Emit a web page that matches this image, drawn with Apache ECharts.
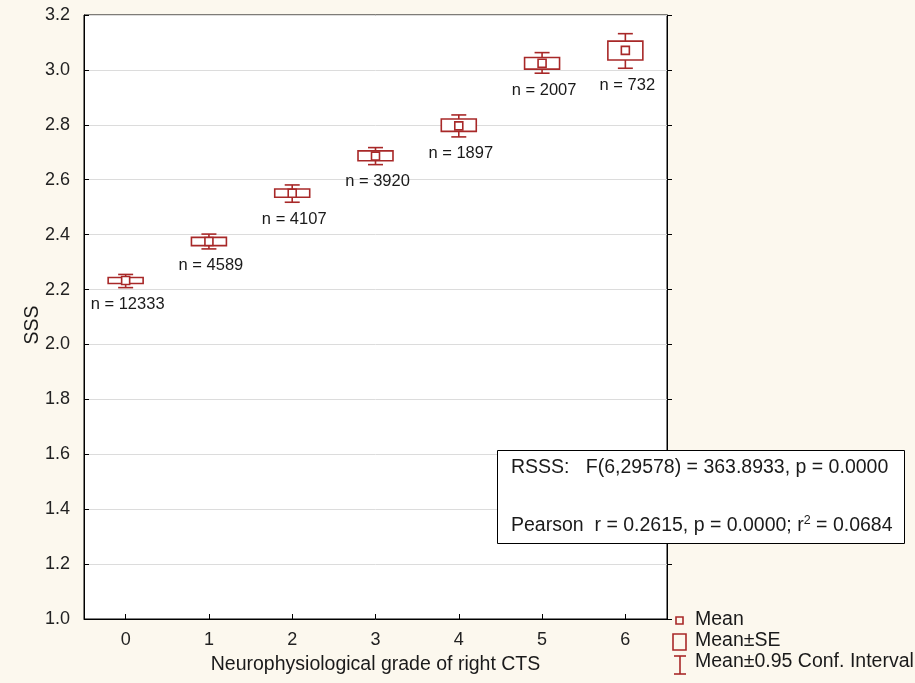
<!DOCTYPE html>
<html>
<head>
<meta charset="utf-8">
<script src="https://cdn.jsdelivr.net/npm/echarts@6/dist/echarts.min.js"></script>
<style>
html,body{margin:0;padding:0;background:#fcf8ee;}
#chart{width:915px;height:683px;}
</style>
</head>
<body>
<div id="chart"></div>
<script>
const categories = ['0', '1', '2', '3', '4', '5', '6'];
const means  = [2.233, 2.375, 2.551, 2.686, 2.796, 3.024, 3.071];
const seLow  = [2.222, 2.360, 2.536, 2.669, 2.776, 3.003, 3.036];
const seHigh = [2.244, 2.390, 2.566, 2.705, 2.821, 3.045, 3.105];
const ciLow  = [2.207, 2.348, 2.518, 2.655, 2.756, 2.988, 3.006];
const ciHigh = [2.255, 2.402, 2.581, 2.717, 2.836, 3.063, 3.132];
const counts = [12333, 4589, 4107, 3920, 1897, 2007, 732];
const yTitle = 'SSS';
const xTitle = 'Neurophysiological grade of right CTS';
const statLines = [
  'RSSS:   F(6,29578) = 363.8933, p = 0.0000',
  'Pearson  r = 0.2615, p = 0.0000; r{sup|2} = 0.0684'
];
const legendLabels = ['Mean', 'Mean\u00b1SE', 'Mean\u00b10.95 Conf. Interval'];

const RED = '#a82828';
const FONT = 'Liberation Sans, Arial, sans-serif';
const TXT = '#1a1a1a';

const data = categories.map((c, i) => [i, means[i], seLow[i], seHigh[i], ciLow[i], ciHigh[i], counts[i]]);

function renderItem(params, api) {
  const x = api.value(0);
  const pm = api.coord([x, api.value(1)]);
  const psl = api.coord([x, api.value(2)]);
  const psh = api.coord([x, api.value(3)]);
  const pcl = api.coord([x, api.value(4)]);
  const pch = api.coord([x, api.value(5)]);
  const bw = api.size([1, 0])[0];
  const hb = bw * 0.21;
  const hc = bw * 0.09;
  const cx = pm[0];
  const ls = { stroke: RED, lineWidth: 1.6, fill: 'none' };
  const ms = 8;
  return {
    type: 'group',
    children: [
      { type: 'line', shape: { x1: cx, y1: pch[1], x2: cx, y2: psh[1] }, style: ls },
      { type: 'line', shape: { x1: cx, y1: psl[1], x2: cx, y2: pcl[1] }, style: ls },
      { type: 'line', shape: { x1: cx - hc, y1: pch[1], x2: cx + hc, y2: pch[1] }, style: ls },
      { type: 'line', shape: { x1: cx - hc, y1: pcl[1], x2: cx + hc, y2: pcl[1] }, style: ls },
      { type: 'rect', shape: { x: cx - hb, y: psh[1], width: hb * 2, height: psl[1] - psh[1] }, style: { stroke: RED, lineWidth: 1.6, fill: '#fff' } },
      { type: 'rect', shape: { x: cx - ms / 2, y: pm[1] - ms / 2, width: ms, height: ms }, style: { stroke: RED, lineWidth: 1.6, fill: '#fff' } },
      { type: 'text', x: cx + 2, y: pcl[1] + 17, style: { text: 'n = ' + api.value(6), fill: TXT, font: '16.5px ' + FONT, align: 'center', verticalAlign: 'middle' } }
    ]
  };
}

const chart = echarts.init(document.getElementById('chart'));
const axisText = { color: '#222', fontSize: 18, fontFamily: FONT };
chart.setOption({
  backgroundColor: '#fcf8ee',
  animation: false,
  grid: { left: 84, right: 248, top: 15, bottom: 64, show: true, backgroundColor: '#fff', borderColor: '#000', borderWidth: 1 },
  xAxis: {
    type: 'category', data: categories, boundaryGap: true,
    axisLine: { show: true, lineStyle: { color: '#000', width: 1 } },
    axisTick: { show: true, inside: true, length: 5, alignWithLabel: true, lineStyle: { color: '#000' } },
    axisLabel: Object.assign({ margin: 12 }, axisText),
    splitLine: { show: false },
    name: xTitle, nameLocation: 'middle', nameGap: 36,
    nameTextStyle: { color: TXT, fontSize: 19.5, fontFamily: FONT }
  },
  yAxis: [{
    type: 'value', min: 1.0, max: 3.2, interval: 0.2,
    axisLine: { show: true, lineStyle: { color: '#000', width: 1 } },
    axisTick: { show: true, inside: true, length: 5, lineStyle: { color: '#000' } },
    axisLabel: Object.assign({ margin: 14, formatter: v => v.toFixed(1) }, axisText),
    splitLine: { show: true, lineStyle: { color: '#dcdcdc', width: 1 } }
  }, {
    type: 'value', min: 1.0, max: 3.2, interval: 0.2, position: 'right',
    axisLine: { show: true, lineStyle: { color: '#000', width: 1 } },
    axisTick: { show: true, inside: false, length: 5, lineStyle: { color: '#000' } },
    axisLabel: { show: false },
    splitLine: { show: false }
  }],
  series: [{
    type: 'custom', renderItem: renderItem, data: data, clip: false,
    encode: { x: 0, y: [1, 2, 3, 4, 5] }
  }],
  graphic: [
    { type: 'text', x: 33, y: 325, rotation: Math.PI / 2, style: { text: yTitle, fill: TXT, font: '19.5px ' + FONT, align: 'center', verticalAlign: 'middle' } },
    { type: 'rect', shape: { x: 497.5, y: 450.5, width: 407, height: 93 }, style: { fill: '#fff', stroke: '#000', lineWidth: 1 }, z: 10 },
    { type: 'text', x: 511, y: 468, z: 11, style: { text: statLines[0], fill: TXT, font: '19.5px ' + FONT, verticalAlign: 'middle' } },
    { type: 'text', x: 511, y: 526, z: 11, style: { text: statLines[1], fill: TXT, font: '19.5px ' + FONT, verticalAlign: 'middle', rich: { sup: { fontSize: 12.5, fontFamily: FONT, fill: TXT, padding: [0, 0, 10, 0] } } } },
    { type: 'rect', shape: { x: 676, y: 617, width: 7, height: 7 }, style: { fill: 'none', stroke: RED, lineWidth: 1.6 } },
    { type: 'text', x: 695, y: 620, style: { text: legendLabels[0], fill: TXT, font: '19.5px ' + FONT, verticalAlign: 'middle' } },
    { type: 'rect', shape: { x: 673, y: 634, width: 13, height: 16 }, style: { fill: 'none', stroke: RED, lineWidth: 1.6 } },
    { type: 'text', x: 695, y: 641, style: { text: legendLabels[1], fill: TXT, font: '19.5px ' + FONT, verticalAlign: 'middle' } },
    { type: 'line', shape: { x1: 674, y1: 656, x2: 686, y2: 656 }, style: { stroke: RED, lineWidth: 1.6 } },
    { type: 'line', shape: { x1: 680, y1: 656, x2: 680, y2: 674 }, style: { stroke: RED, lineWidth: 1.6 } },
    { type: 'line', shape: { x1: 674, y1: 674, x2: 686, y2: 674 }, style: { stroke: RED, lineWidth: 1.6 } },
    { type: 'text', x: 695, y: 662, style: { text: legendLabels[2], fill: TXT, font: '19.5px ' + FONT, verticalAlign: 'middle' } }
  ]
});
</script>
</body>
</html>
